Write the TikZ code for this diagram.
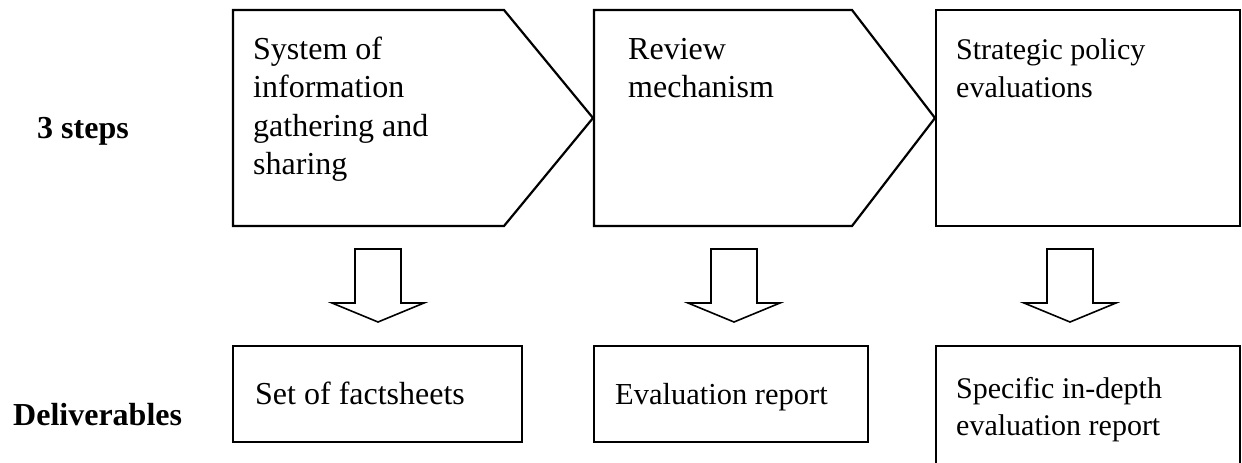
\documentclass[tikz,border=0pt]{standalone}
\usepackage{fontspec}
\setmainfont{Liberation Serif}
\begin{document}
\begin{tikzpicture}[x=1pt,y=-1pt,
  box/.style={draw=black, line width=2.2pt, line join=miter},
  barrow/.style={draw=black, line width=1.6pt, line join=miter},
  lbl/.style={anchor=base west, inner sep=0pt, font=\fontsize{32}{38.5}\selectfont},
  lblsm/.style={anchor=base west, inner sep=0pt, font=\fontsize{30}{38.5}\selectfont},
  hdr/.style={anchor=base west, inner sep=0pt, font=\fontsize{32}{38.5}\selectfont\bfseries},
  blockarrow/.pic={\draw[barrow] (-23,0) -- (23,0) -- (23,54) -- (46,54) -- (0,73) -- (-46,54) -- (-23,54) -- cycle;}]
\useasboundingbox (0,0) rectangle (1242,463);
% step shapes
\draw[box] (233,10) -- (504,10) -- (593,118) -- (504,226) -- (233,226) -- cycle;
\draw[box] (594,10) -- (852,10) -- (935,118) -- (852,226) -- (594,226) -- cycle;
\draw[box] (936,10) rectangle (1240,226);
% deliverable boxes
\draw[box] (233,346) rectangle (522,442);
\draw[box] (594,346) rectangle (868,442);
\draw[box] (936,470) -- (936,346) -- (1240,346) -- (1240,470);
% block arrows
\pic at (378,249) {blockarrow};
\pic at (734,249) {blockarrow};
\pic at (1070,249) {blockarrow};
% labels
\node[hdr] (steps) at (37,138) {3 steps};
\node[hdr] (deliv) at (13,425) {Deliverables};
\node[lbl] (s1) at (253,59) {\begin{tabular}[t]{@{}l@{}}System of\\ information\\ gathering and\\ sharing\end{tabular}};
\node[lbl] (s2) at (628,59) {\begin{tabular}[t]{@{}l@{}}Review\\ mechanism\end{tabular}};
\node[lblsm] (s3) at (956,59) {\begin{tabular}[t]{@{}l@{}}Strategic policy\\ evaluations\end{tabular}};
\node[lbl] (d1) at (255,404) {Set of factsheets};
\node[lbl, font=\fontsize{30.5}{38.5}\selectfont] (d2) at (615,404) {Evaluation report};
\node[lblsm] (d3) at (956,398) {\begin{tabular}[t]{@{}l@{}}Specific in-depth\\[-1.5pt] evaluation report\end{tabular}};
\end{tikzpicture}
\end{document}
